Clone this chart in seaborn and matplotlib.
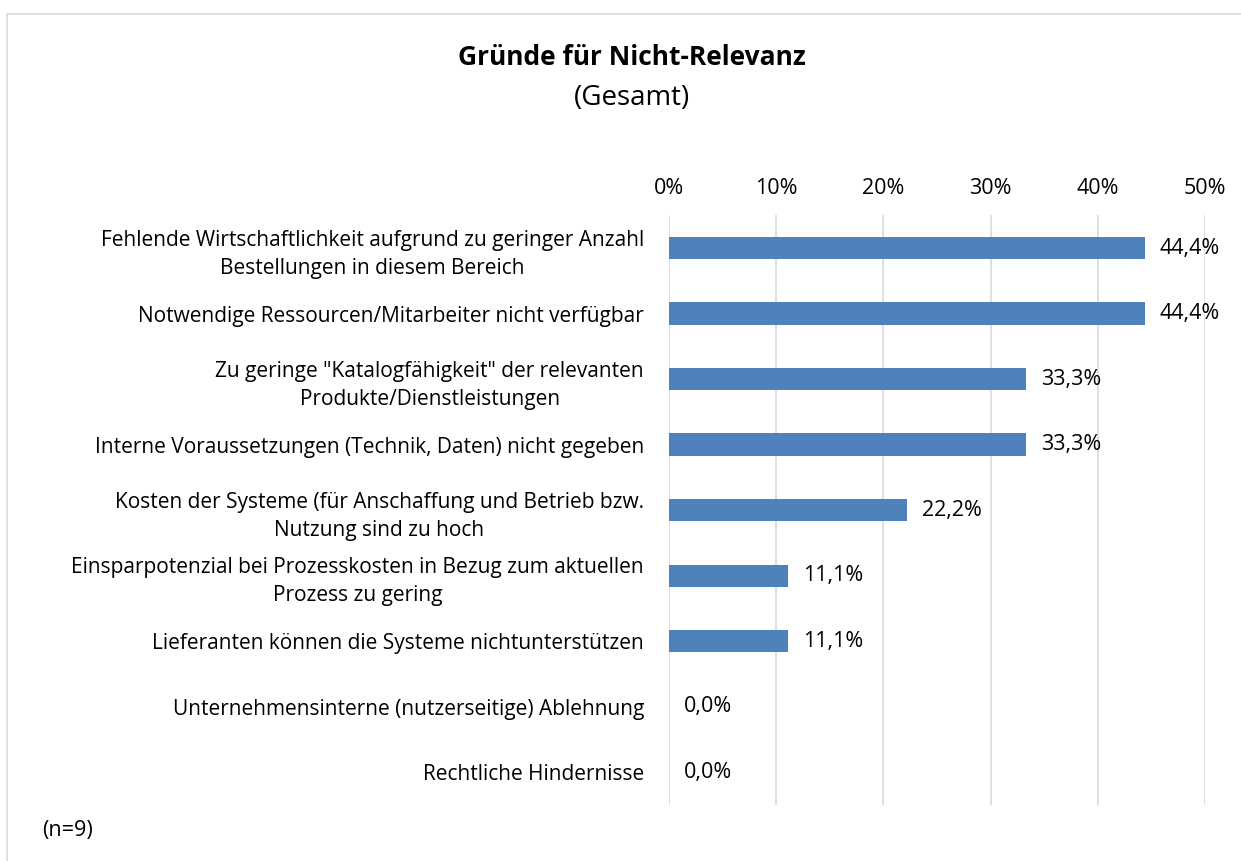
import matplotlib
matplotlib.use("Agg")
import matplotlib.pyplot as plt
import seaborn as sns
import pandas as pd
from matplotlib.patches import Rectangle

categories = [
    "Fehlende Wirtschaftlichkeit aufgrund zu geringer Anzahl\nBestellungen in diesem Bereich",
    "Notwendige Ressourcen/Mitarbeiter nicht verfügbar",
    "Zu geringe \"Katalogfähigkeit\" der relevanten\nProdukte/Dienstleistungen",
    "Interne Voraussetzungen (Technik, Daten) nicht gegeben",
    "Kosten der Systeme (für Anschaffung und Betrieb bzw.\nNutzung sind zu hoch",
    "Einsparpotenzial bei Prozesskosten in Bezug zum aktuellen\nProzess zu gering",
    "Lieferanten können die Systeme nichtunterstützen",
    "Unternehmensinterne (nutzerseitige) Ablehnung",
    "Rechtliche Hindernisse",
]
values = [44.4, 44.4, 33.3, 33.3, 22.2, 11.1, 11.1, 0.0, 0.0]
x_ticks = [0, 10, 20, 30, 40, 50]
x_tick_labels = ["0%", "10%", "20%", "30%", "40%", "50%"]

sns.set_theme(style="white")
plt.rcParams['font.family'] = ['Open Sans', 'DejaVu Sans']

df = pd.DataFrame({"cat": categories, "val": values})

fig = plt.figure(figsize=(12.41, 8.61), dpi=100)
ax = fig.add_axes([0.539, 0.065, 0.432, 0.685])

sns.barplot(data=df, x="val", y="cat", orient="h", color="#4F81BD",
            width=0.34, ax=ax, saturation=1, linewidth=0)

ax.set_xlim(0, 50)
ax.set_ylim(len(categories) - 0.5, -0.5)
ax.set_xticks(x_ticks)
ax.set_xticklabels(x_tick_labels, fontsize=15.5, color="#000000")
ax.xaxis.tick_top()
ax.tick_params(axis="x", length=0, pad=12)
ax.tick_params(axis="y", length=0, pad=18)
for lbl in ax.get_yticklabels():
    lbl.set_fontsize(15)
    lbl.set_multialignment("center")
    lbl.set_linespacing(1.45)
    lbl.set_color("#000000")
ax.set_xlabel("")
ax.set_ylabel("")
for s in ax.spines.values():
    s.set_visible(False)
ax.grid(axis="x", color="#D9D9D9", linewidth=1.2)
ax.set_axisbelow(True)

for i, v in enumerate(values):
    ax.text(v + 1.4, i, f"{v:.1f}".replace(".", ",") + "%", va="center", ha="left",
            fontsize=15.5, color="#000000")

fig.text(0.509, 0.933, "Gründe für Nicht-Relevanz", ha="center", va="center",
         fontsize=19, fontweight="bold", color="#000000")
fig.text(0.509, 0.886, "(Gesamt)", ha="center", va="center", fontsize=20, color="#000000")
fig.text(0.034, 0.035, "(n=9)", ha="left", va="center", fontsize=15.5, color="#000000")

fig.patches.append(Rectangle((0.0056, -0.1), 1.1, 1.084, transform=fig.transFigure,
                             fill=False, edgecolor="#D9D9D9", linewidth=1.2))

fig.savefig("out.png", dpi=100)
